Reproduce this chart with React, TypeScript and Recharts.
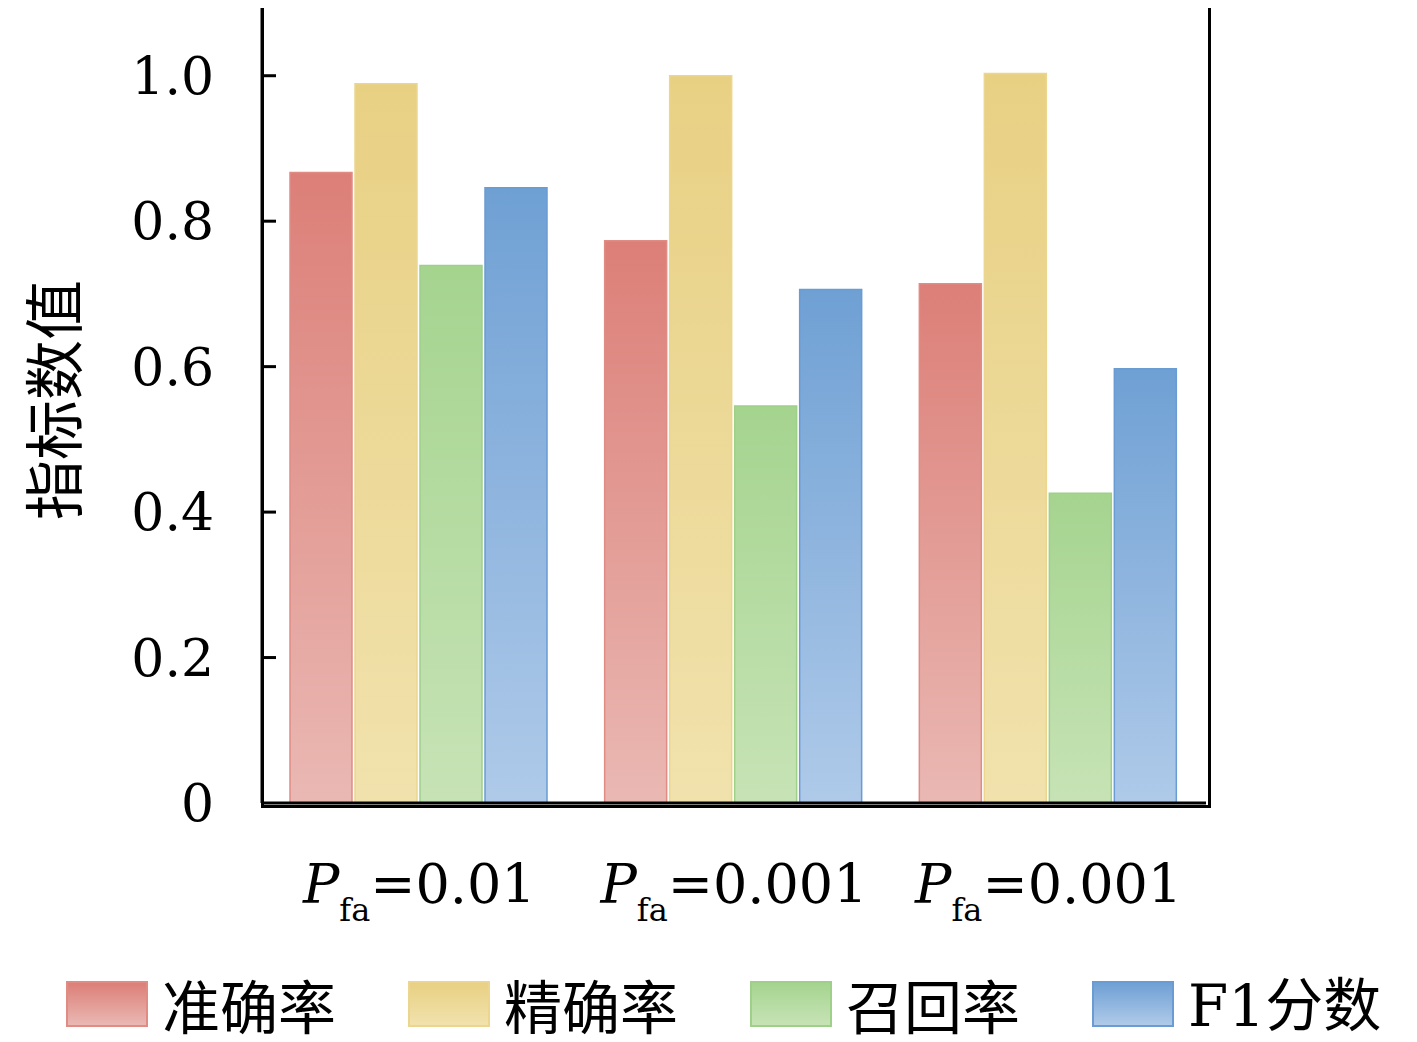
import React from "react";
import { BarChart, Bar, XAxis, YAxis } from "recharts";

const categories = ["0.01", "0.001", "0.001"];
const accuracy = [0.867, 0.773, 0.714];
const precision = [0.989, 1.0, 1.003];
const recall = [0.739, 0.546, 0.426];
const f1 = [0.846, 0.706, 0.597];
const yTicks = [0, 0.2, 0.4, 0.6, 0.8, 1.0];

const series = [
  { key: "acc", name: "准确率", top: "#dc7f78", bottom: "#eab8b3", edge: "#e08c85" },
  { key: "pre", name: "精确率", top: "#e8d083", bottom: "#f1e2ad", edge: "#ecd68f" },
  { key: "rec", name: "召回率", top: "#a5d48f", bottom: "#c7e3b6", edge: "#9fd08a" },
  { key: "f1", name: "F1分数", top: "#6fa0d4", bottom: "#afcae9", edge: "#6a9bd2" },
];

const data = categories.map((c, i) => ({
  name: c,
  acc: accuracy[i],
  pre: precision[i],
  rec: recall[i],
  f1: f1[i],
}));

const serif = "'DejaVu Serif', 'Liberation Serif', serif";
const cjk = "'Noto Sans CJK SC', sans-serif";

const YTick = (props: any) => {
  const { x, y, payload } = props;
  return (
    <g>
      {payload.value !== 0 && <line x1={x} x2={x + 14} y1={y} y2={y} stroke="#000" strokeWidth={3} />}
      <text x={x - 48} y={y} dy={18} textAnchor="end" fontFamily={serif} fontSize={52} fill="#000">
        {payload.value === 0 ? "0" : payload.value.toFixed(1)}
      </text>
    </g>
  );
};

const XTick = (props: any) => {
  const { x, y, payload } = props;
  return (
    <text x={x} y={y + 92} textAnchor="middle" fontFamily={serif} fontSize={54} fill="#000">
      <tspan fontStyle="italic">P</tspan>
      <tspan fontSize={32} dy={18}>fa</tspan>
      <tspan dy={-18}>={payload.value}</tspan>
    </text>
  );
};

const App = () => {
  return (
    <div style={{ position: "relative", margin: "-8px 0 0 -8px", width: 1417, height: 1042 }}>
      <BarChart
        width={1417}
        height={1042}
        data={data}
        margin={{ top: 3, right: 211, left: 132, bottom: 0 }}
        barCategoryGap={28}
        barGap={3}
      >
        <defs>
          {series.map((s) => (
            <linearGradient key={s.key} id={`g-${s.key}`} x1="0" y1="0" x2="0" y2="1">
              <stop offset="0%" stopColor={s.top} />
              <stop offset="100%" stopColor={s.bottom} />
            </linearGradient>
          ))}
        </defs>
        <XAxis dataKey="name" height={239} tick={<XTick />} tickLine={false} axisLine={{ stroke: "#000", strokeWidth: 3 }} interval={0} />
        <YAxis
          domain={[0, 1.1]}
          ticks={yTicks}
          width={130}
          tickLine={false}
          tickSize={0}
          tickMargin={0}
          tick={<YTick />}
          axisLine={{ stroke: "#000", strokeWidth: 3 }}
          allowDataOverflow
        />
        {series.map((s) => (
          <Bar
            key={s.key}
            dataKey={s.key}
            name={s.name}
            fill={`url(#g-${s.key})`}
            stroke={s.edge}
            strokeWidth={1.5}
            isAnimationActive={false}
          />
        ))}
      </BarChart>
      <div
        style={{
          position: "absolute",
          left: 260.5,
          top: 1.5,
          width: 944,
          height: 800,
          border: "3px solid #000",
          pointerEvents: "none",
        }}
      />
      <div
        style={{
          position: "absolute",
          left: 50,
          top: 400,
          transform: "translate(-50%, -50%) rotate(-90deg)",
          fontFamily: cjk,
          fontSize: 60,
          whiteSpace: "nowrap",
        }}
      >
        指标数值
      </div>
      <div style={{ position: "absolute", left: 66, top: 966, display: "flex", alignItems: "center" }}>
        {series.map((s, i) => (
          <div key={s.key} style={{ display: "flex", alignItems: "center", width: i < 3 ? 342 : undefined }}>
            <div
              style={{
                width: 78,
                height: 42,
                background: `linear-gradient(${s.top}, ${s.bottom})`,
                border: `2px solid ${s.edge}`,
                marginRight: 14,
              }}
            />
            <span style={{ fontFamily: s.key === "f1" ? serif : cjk, fontSize: 58, lineHeight: "70px" }}>
              {s.key === "f1" ? (
                <>
                  F1<span style={{ fontFamily: cjk }}>分数</span>
                </>
              ) : (
                s.name
              )}
            </span>
          </div>
        ))}
      </div>
    </div>
  );
};

export default App;
